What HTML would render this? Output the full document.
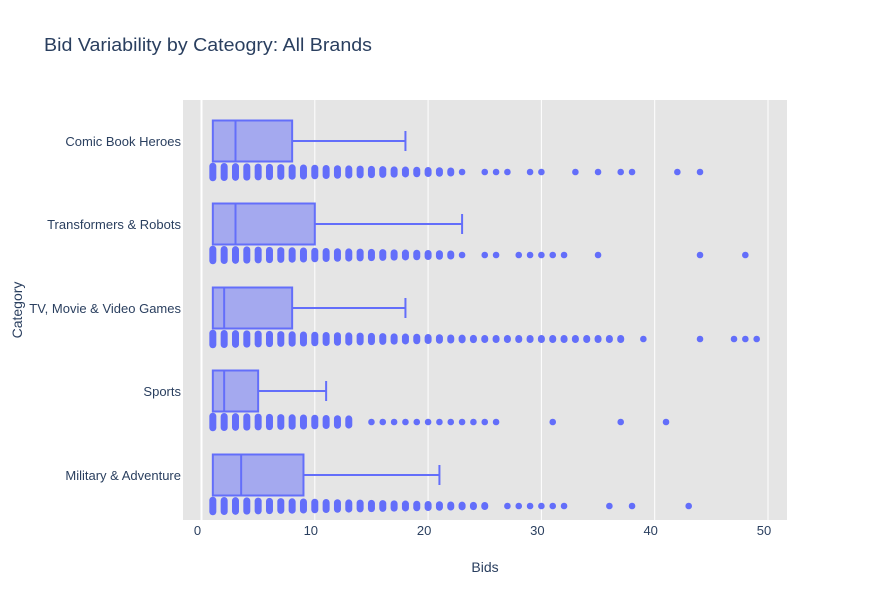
<!DOCTYPE html>
<html><head><meta charset="utf-8"><style>
body{margin:0;background:#fff;font-family:"Liberation Sans",Arial,sans-serif}
svg text{font-family:"Liberation Sans",Arial,sans-serif;fill:#2a3f5f}
</style></head><body>
<svg id="s" width="880" height="600" xmlns="http://www.w3.org/2000/svg">
<rect width="880" height="600" fill="#fff"/>
<rect x="183" y="100" width="604" height="420" fill="#e5e5e5"/>
<g id="grid"></g>
<g id="data"></g>
<text x="44" y="51" font-size="18" textLength="328" lengthAdjust="spacingAndGlyphs">Bid Variability by Cateogry: All Brands</text>
<g font-size="13" text-anchor="end">
<text x="181" y="146">Comic Book Heroes</text>
<text x="181" y="229">Transformers &amp; Robots</text>
<text x="181" y="313">TV, Movie &amp; Video Games</text>
<text x="181" y="396">Sports</text>
<text x="181" y="480">Military &amp; Adventure</text>
</g>
<g font-size="13" text-anchor="middle" id="xt"></g>
<text x="485" y="572" font-size="14" text-anchor="middle">Bids</text>
<text x="22" y="310" font-size="14" text-anchor="middle" transform="rotate(-90 22 310)">Category</text>
</svg>
<script>
const NS="http://www.w3.org/2000/svg";
const X=v=>201.5+v*11.33;
function el(t,a,p){const e=document.createElementNS(NS,t);for(const k in a)e.setAttribute(k,a[k]);p.appendChild(e);return e;}
const g=document.getElementById('grid'),d=document.getElementById('data'),xt=document.getElementById('xt');
for(let v=0;v<=50;v+=10){el('line',{x1:X(v),x2:X(v),y1:100,y2:520,stroke:'#fff','stroke-width':v==0?2:1},g);const t=el('text',{x:X(v)-4,y:535},xt);t.textContent=v;}
const range=(a,b)=>{const r=[];for(let i=a;i<=b;i++)r.push(i);return r;};
const cats=[
{c:141,q1:1,m:3,q3:8,w:18,dense:range(1,22),out:[23,25,26,27,29,30,33,35,37,38,42,44]},
{c:224,q1:1,m:3,q3:10,w:23,dense:range(1,22),out:[23,25,26,28,29,30,31,32,35,44,48]},
{c:308,q1:1,m:2,q3:8,w:18,dense:range(1,37),out:[39,44,47,48,49]},
{c:391,q1:1,m:2,q3:5,w:11,dense:range(1,13),out:[15,16,17,18,19,20,21,22,23,24,25,26,31,37,41]},
{c:475,q1:1,m:3.5,q3:9,w:21,dense:range(1,25),out:[27,28,29,30,31,32,36,38,43]}];
const col='#636efa';
cats.forEach(k=>{
 const t=k.c-20.5,b=k.c+20.5;
 el('rect',{x:X(k.q1),y:t,width:X(k.q3)-X(k.q1),height:41,fill:'rgba(99,110,250,0.5)',stroke:col,'stroke-width':2},d);
 el('line',{x1:X(k.m),x2:X(k.m),y1:t,y2:b,stroke:col,'stroke-width':2},d);
 el('line',{x1:X(k.q3),x2:X(k.w),y1:k.c,y2:k.c,stroke:col,'stroke-width':2},d);
 el('line',{x1:X(k.w),x2:X(k.w),y1:k.c-10,y2:k.c+10,stroke:col,'stroke-width':2},d);
 const py=k.c+31;
 k.dense.forEach(v=>{const h=Math.max(8,19-v*0.45);el('rect',{x:X(v)-3.5,y:py-h/2,width:7,height:h,rx:3.5,fill:col},d);});
 k.out.forEach(v=>{el('circle',{cx:X(v),cy:py,r:3.3,fill:col},d);});
});
</script>
</body></html>
